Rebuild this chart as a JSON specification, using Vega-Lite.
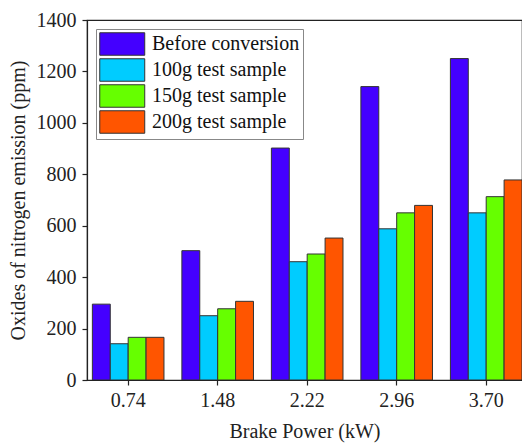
{
  "$schema": "https://vega.github.io/schema/vega-lite/v6.json",
  "autosize": "none",
  "padding": {"left": 87, "top": 20, "right": 0, "bottom": 63},
  "width": 435,
  "height": 360,
  "background": "white",
  "config": {
    "view": {"stroke": "#222", "strokeWidth": 1.2},
    "font": "Liberation Serif",
    "axis": {
      "domainColor": "#222", "domainWidth": 1.2, "tickColor": "#222", "tickSize": 5, "tickWidth": 1.2,
      "labelFont": "Liberation Serif", "labelFontSize": 20, "labelColor": "#222",
      "titleFont": "Liberation Serif", "titleFontSize": 20, "titleFontWeight": "normal", "titleColor": "#222",
      "grid": false
    }
  },
  "data": {
    "values": [
      {"power": "0.74", "sample": "Before conversion", "nox": 295},
      {"power": "0.74", "sample": "100g test sample", "nox": 141},
      {"power": "0.74", "sample": "150g test sample", "nox": 166},
      {"power": "0.74", "sample": "200g test sample", "nox": 166},
      {"power": "1.48", "sample": "Before conversion", "nox": 503},
      {"power": "1.48", "sample": "100g test sample", "nox": 250},
      {"power": "1.48", "sample": "150g test sample", "nox": 277},
      {"power": "1.48", "sample": "200g test sample", "nox": 306},
      {"power": "2.22", "sample": "Before conversion", "nox": 902},
      {"power": "2.22", "sample": "100g test sample", "nox": 460},
      {"power": "2.22", "sample": "150g test sample", "nox": 490},
      {"power": "2.22", "sample": "200g test sample", "nox": 552},
      {"power": "2.96", "sample": "Before conversion", "nox": 1141},
      {"power": "2.96", "sample": "100g test sample", "nox": 588},
      {"power": "2.96", "sample": "150g test sample", "nox": 650},
      {"power": "2.96", "sample": "200g test sample", "nox": 679},
      {"power": "3.70", "sample": "Before conversion", "nox": 1250},
      {"power": "3.70", "sample": "100g test sample", "nox": 650},
      {"power": "3.70", "sample": "150g test sample", "nox": 713},
      {"power": "3.70", "sample": "200g test sample", "nox": 778}
    ]
  },
  "mark": {"type": "bar", "stroke": "#333", "strokeWidth": 1, "clip": true},
  "encoding": {
    "x": {
      "field": "power", "type": "nominal", "title": "Brake Power (kW)",
      "scale": {"paddingInner": 0.2, "paddingOuter": 0.03, "align": 1},
      "axis": {"labelAngle": 0, "labelPadding": 5.5, "titlePadding": 11}
    },
    "xOffset": {
      "field": "sample", "type": "nominal",
      "sort": ["Before conversion", "100g test sample", "150g test sample", "200g test sample"]
    },
    "y": {
      "field": "nox", "type": "quantitative", "title": "Oxides of nitrogen emission (ppm)",
      "scale": {"domain": [0, 1400], "nice": false},
      "axis": {"values": [0, 200, 400, 600, 800, 1000, 1200, 1400], "format": "d", "labelPadding": 6, "titlePadding": 8}
    },
    "color": {
      "field": "sample", "type": "nominal",
      "sort": ["Before conversion", "100g test sample", "150g test sample", "200g test sample"],
      "scale": {
        "domain": ["Before conversion", "100g test sample", "150g test sample", "200g test sample"],
        "range": ["#4400FF", "#00CCFF", "#66FF00", "#FF5500"]
      },
      "legend": {
        "title": null, "orient": "top-left", "offset": 9,
        "symbolType": "M-1,-1H3V1H-1Z", "symbolSize": 506,
        "symbolStrokeColor": "#333", "symbolStrokeWidth": 1, "symbolOpacity": 1,
        "labelFont": "Liberation Serif", "labelFontSize": 20, "labelColor": "#111",
        "labelOffset": 29, "rowPadding": -3, "padding": 3,
        "strokeColor": "#888", "fillColor": "white"
      }
    }
  }
}
